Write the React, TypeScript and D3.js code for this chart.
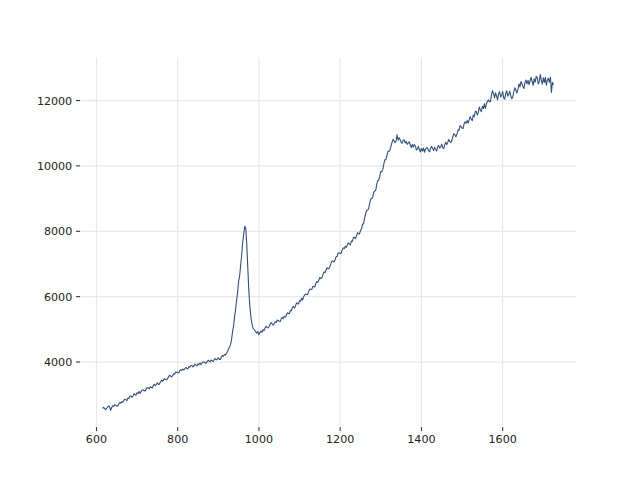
import React from "react";
import * as d3 from "d3";

// Spectrum: wavenumber starts at 615, step 2.5
const X_START = 615;
const X_STEP = 2.5;
const intensity: number[] = [
  2585, 2615, 2575, 2545, 2580, 2625, 2655, 2620, 2520, 2610, 2660, 2640, 2695, 2680, 2650, 2655, 2725, 2760, 2740, 2790,
  2772, 2821, 2866, 2843, 2824, 2900, 2886, 2959, 2962, 2920, 2961, 3033, 3005, 2986, 3063, 3036, 3100, 3041, 3105, 3137,
  3151, 3120, 3111, 3180, 3221, 3203, 3181, 3245, 3227, 3205, 3282, 3314, 3278, 3311, 3361, 3316, 3322, 3395, 3441, 3406,
  3448, 3494, 3463, 3455, 3492, 3552, 3593, 3572, 3541, 3582, 3642, 3629, 3698, 3690, 3673, 3667, 3739, 3769, 3741, 3785,
  3755, 3795, 3832, 3808, 3789, 3853, 3838, 3895, 3892, 3850, 3879, 3937, 3906, 3884, 3945, 3918, 3971, 3917, 3970, 3996,
  4005, 3974, 3964, 4020, 4052, 4031, 4007, 4059, 4039, 4015, 4079, 4103, 4067, 4090, 4130, 4082, 4078, 4151, 4200, 4177,
  4230, 4215, 4270, 4315, 4400, 4450, 4540, 4680, 4920, 5100, 5380, 5600, 5890, 6130, 6480, 6630, 6970, 7280, 7660, 7910,
  8150, 8100, 7600, 6900, 6200, 5720, 5400, 5190, 5060, 5000, 4970, 4920, 4880, 4930, 4840, 4900, 4950, 4910, 4990, 4960,
  5037, 5095, 5059, 5046, 5088, 5158, 5205, 5171, 5125, 5167, 5232, 5208, 5284, 5271, 5247, 5240, 5327, 5364, 5329, 5398,
  5372, 5441, 5504, 5489, 5480, 5582, 5573, 5675, 5693, 5651, 5709, 5810, 5790, 5776, 5878, 5860, 5954, 5900, 5996, 6051,
  6083, 6063, 6070, 6167, 6230, 6226, 6217, 6313, 6309, 6295, 6402, 6464, 6443, 6506, 6590, 6552, 6576, 6682, 6755, 6734,
  6808, 6884, 6858, 6862, 6926, 7025, 7100, 7086, 7060, 7130, 7224, 7227, 7338, 7337, 7324, 7330, 7438, 7492, 7468, 7540,
  7510, 7582, 7648, 7614, 7586, 7699, 7692, 7799, 7816, 7778, 7848, 7955, 7930, 7917, 8030, 8066, 8222, 8226, 8392, 8526,
  8642, 8647, 8687, 8851, 8973, 9004, 9028, 9190, 9226, 9255, 9438, 9556, 9569, 9687, 9833, 9825, 9894, 10063, 10190, 10191,
  10314, 10447, 10444, 10481, 10598, 10720, 10810, 10768, 10710, 10765, 10950, 10786, 10864, 10806, 10732, 10690, 10784, 10796, 10704, 10750,
  10658, 10702, 10738, 10647, 10564, 10654, 10575, 10656, 10611, 10486, 10513, 10600, 10500, 10427, 10532, 10456, 10549, 10419, 10517, 10551,
  10551, 10471, 10434, 10540, 10596, 10537, 10469, 10567, 10513, 10455, 10584, 10628, 10545, 10588, 10666, 10553, 10532, 10654, 10725, 10653,
  10727, 10811, 10742, 10718, 10784, 10905, 10990, 10949, 10890, 10980, 11106, 11088, 11232, 11203, 11156, 11145, 11287, 11353, 11302, 11390,
  11315, 11417, 11508, 11439, 11381, 11554, 11507, 11669, 11666, 11553, 11638, 11800, 11720, 11657, 11825, 11756, 11907, 11756, 11902, 11976,
  12024, 11964, 11974, 12182, 12306, 12203, 12086, 12235, 12132, 12020, 12216, 12267, 12108, 12164, 12276, 12082, 12043, 12214, 12300, 12132,
  12202, 12288, 12137, 12056, 12114, 12280, 12390, 12324, 12230, 12340, 12506, 12418, 12582, 12513, 12416, 12370, 12562, 12628, 12512, 12620,
  12485, 12605, 12710, 12580, 12465, 12662, 12560, 12742, 12700, 12507, 12585, 12800, 12620, 12500, 12695, 12555, 12710, 12470, 12630, 12680,
  12560, 12720, 12250, 12560, 12480,
];
const xTicks = [600, 800, 1000, 1200, 1400, 1600];
const yTicks = [4000, 6000, 8000, 10000, 12000];

const W = 640;
const H = 480;
const left = 80;
const right = 576;
const top = 57.6;
const bottom = 427.2;
const FONT = 11.1;

export default function App() {
  const data = intensity.map((v, i) => ({ x: X_START + i * X_STEP, y: v }));
  const [x0, x1] = d3.extent(data, (d) => d.x) as [number, number];
  const [y0, y1] = d3.extent(data, (d) => d.y) as [number, number];
  const xm = (x1 - x0) * 0.05;
  const ym = (y1 - y0) * 0.05;
  const x = d3.scaleLinear().domain([x0 - xm, x1 + xm]).range([left, right]);
  const y = d3.scaleLinear().domain([y0 - ym, y1 + ym]).range([bottom, top]);
  const line = d3
    .line<{ x: number; y: number }>()
    .x((d) => x(d.x))
    .y((d) => y(d.y));
  const tickLen = 3.9;
  const pad = 3.9;
  return (
    <svg
      width={W}
      height={H}
      style={{ position: "absolute", left: 0, top: 0, display: "block", background: "#fff" }}
      fontFamily="DejaVu Sans"
      fontSize={FONT}
    >
      <rect x={0} y={0} width={W} height={H} fill="#fff" />
      {xTicks.map((t) => (
        <line key={"gx" + t} x1={x(t)} x2={x(t)} y1={top} y2={bottom} stroke="#e8e8e8" strokeWidth={1.2} />
      ))}
      {yTicks.map((t) => (
        <line key={"gy" + t} x1={left} x2={right} y1={y(t)} y2={y(t)} stroke="#e8e8e8" strokeWidth={1.2} />
      ))}
      <path d={line(data) || ""} fill="none" stroke="#34507a" strokeWidth={1.1} strokeLinejoin="round" />
      {xTicks.map((t) => (
        <g key={"tx" + t}>
          <line x1={x(t)} x2={x(t)} y1={bottom} y2={bottom + tickLen} stroke="#222" strokeWidth={1} />
          <text x={x(t)} y={bottom + tickLen + pad + FONT * 0.76} textAnchor="middle" fill="#222">
            {t}
          </text>
        </g>
      ))}
      {yTicks.map((t) => (
        <g key={"ty" + t}>
          <line x1={left - tickLen} x2={left} y1={y(t)} y2={y(t)} stroke="#222" strokeWidth={1} />
          <text x={left - tickLen - pad} y={y(t) + FONT * 0.36} textAnchor="end" fill="#222">
            {t}
          </text>
        </g>
      ))}
    </svg>
  );
}
